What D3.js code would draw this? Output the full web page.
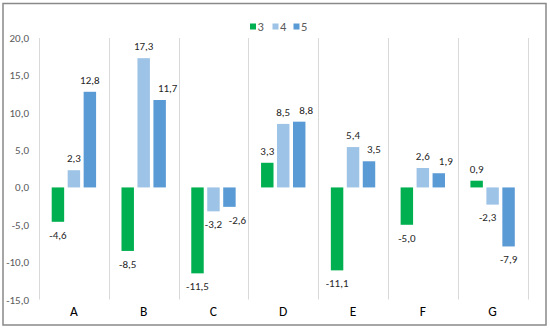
<!DOCTYPE html>
<html><head><meta charset="utf-8">
<script src="https://cdn.jsdelivr.net/npm/d3@7"></script>
<style>body{margin:0;background:#fff}svg{display:block}text{font-family:Carlito,Calibri,Lato,"Open Sans",sans-serif}</style>
</head><body><svg id="c" width="550" height="329"></svg>
<script>
const categories = ["A","B","C","D","E","F","G"];
const seriesNames = ["3","4","5"];
const s3 = [-4.6,-8.5,-11.5,3.3,-11.1,-5.0,0.9];
const s4 = [2.3,17.3,-3.2,8.5,5.4,2.6,-2.3];
const s5 = [12.8,11.7,-2.6,8.8,3.5,1.9,-7.9];
const yTicks = [-15,-10,-5,0,5,10,15,20];
const colors = ["#00B050","#9DC3E6","#5B9BD5"];
// label nudges (px) per series per category, to mimic manual label placement
const nudge = [[0,0,0,0,0,0,0],[0,0,0,0,0,0,-5],[0,8,8,7,5,7,0]];

(function(){
const series = [s3,s4,s5];
const svg = d3.select("#c");
const fmt = v => d3.format(".1f")(v).replace(".", ",").replace("−","-");

// outer border
svg.append("rect").attr("x",3).attr("y",3.5).attr("width",543).attr("height",321.5)
  .attr("fill","#fff").attr("stroke","#898989").attr("stroke-width",1.5);

const pl = 39, pr = 527.5, pt = 38, pb = 299.5;
const x = d3.scaleBand().domain(categories).range([pl,pr]).paddingInner(0).paddingOuter(0);
const y = d3.scaleLinear().domain([-15,20]).range([pb,pt]);
const inner = d3.scaleBand().domain(seriesNames).range([12.7, x.bandwidth()-12.7]).paddingInner(0.22);

// vertical gridlines
const gl = d3.range(categories.length+1).map(i => pl + i*x.bandwidth());
svg.append("g").selectAll("line").data(gl).join("line")
  .attr("x1",d=>Math.round(d)+0.5).attr("x2",d=>Math.round(d)+0.5)
  .attr("y1",pt).attr("y2",pb).attr("stroke","#d9d9d9").attr("stroke-width",1);

// y axis
const yAxis = d3.axisLeft(y).tickValues(yTicks).tickFormat(fmt).tickSize(0).tickPadding(0);
const ya = svg.append("g").attr("transform",`translate(${29},0)`).call(yAxis);
ya.select(".domain").remove();
ya.selectAll("text").attr("fill","#595959").style("font-size","11px");

// x axis labels
const xAxis = d3.axisBottom(x).tickSize(0).tickPadding(0);
const xa = svg.append("g").attr("transform",`translate(0,${307.5})`).call(xAxis);
xa.select(".domain").remove();
xa.selectAll("text").attr("fill","#000").style("font-size","13.5px").attr("dy","0.6em");

// bars
series.forEach((vals,si)=>{
  const g = svg.append("g");
  g.selectAll("rect").data(vals).join("rect")
    .attr("x",(d,i)=>x(categories[i])+inner(seriesNames[si]))
    .attr("width",inner.bandwidth())
    .attr("y",d=>y(Math.max(0,d)))
    .attr("height",d=>Math.abs(y(d)-y(0)))
    .attr("fill",colors[si]);
  g.selectAll("text").data(vals).join("text")
    .attr("x",(d,i)=>x(categories[i])+inner(seriesNames[si])+inner.bandwidth()/2+nudge[si][i])
    .attr("y",d=> d>=0 ? y(d)-12 : y(d)+13)
    .attr("dy","0.35em").attr("text-anchor","middle")
    .attr("fill","#262626").style("font-size","11px")
    .text(d=>fmt(d));
});

// legend
const lg = svg.append("g");
const lx = [250,272.5,293.5];
seriesNames.forEach((n,i)=>{
  lg.append("rect").attr("x",lx[i]).attr("y",23.5).attr("width",6).attr("height",6).attr("fill",colors[i]);
  lg.append("text").attr("x",lx[i]+7.5).attr("y",27).attr("dy","0.35em")
    .attr("fill","#595959").style("font-size","12.5px").text(n);
});
})();
</script></body></html>
